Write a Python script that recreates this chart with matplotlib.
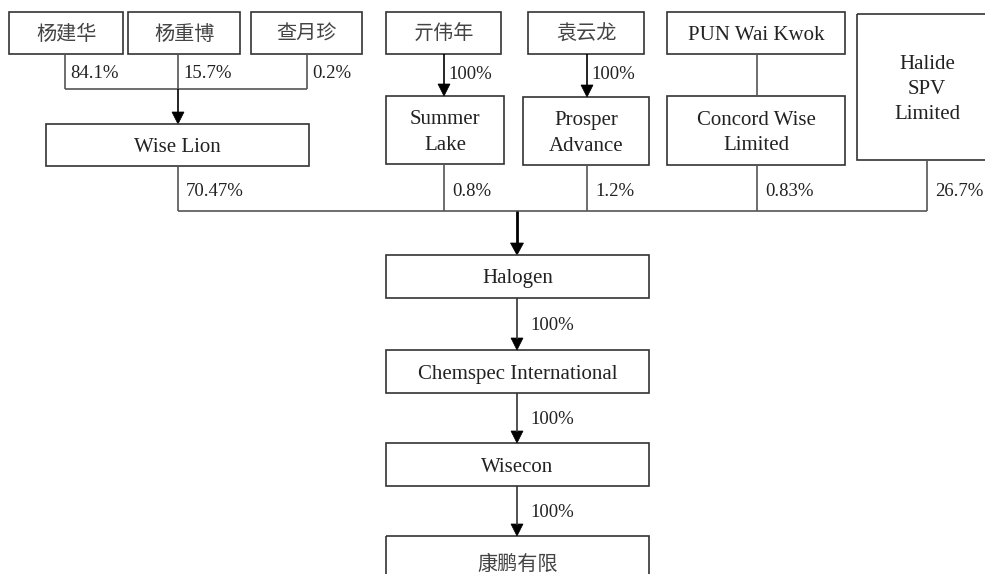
import matplotlib
matplotlib.use("Agg")
import matplotlib.pyplot as plt
from matplotlib.patches import Rectangle, Polygon

# ---- data ----
family_owners = ["杨建华", "杨重博", "查月珍"]
family_shares = ["84.1%", "15.7%", "0.2%"]
holding_name = "Wise Lion"
individual_owners = ["亓伟年", "袁云龙", "PUN Wai Kwok"]
individual_shares = ["100%", "100%", ""]
vehicles = ["Summer\nLake", "Prosper\nAdvance", "Concord Wise\nLimited"]
other_holder = "Halide\nSPV\nLimited"
halogen_holders = ["Wise Lion", "Summer Lake", "Prosper Advance", "Concord Wise Limited", "Halide SPV Limited"]
halogen_shares = ["70.47%", "0.8%", "1.2%", "0.83%", "26.7%"]
chain = ["Halogen", "Chemspec International", "Wisecon", "康鹏有限"]
chain_shares = ["100%", "100%", "100%"]

# ---- layout (pixel coords) ----
W, H = 985, 574
fig = plt.figure(figsize=(W / 100, H / 100), dpi=100)
ax = fig.add_axes([0, 0, 1, 1])
ax.set_xlim(0, W)
ax.set_ylim(H, 0)
ax.axis("off")

SERIF = ["Liberation Serif", "Noto Sans CJK SC"]
CJK = ["Noto Sans CJK SC", "Liberation Serif"]
BOX_EC = "#333333"
LINE_C = "#555555"
TXT_C = "#222222"
DY = 2.5  # small downward nudge for text centring


def is_cjk(s):
    return any(ord(c) > 0x2E80 for c in s)


def box(x0, y0, x1, y1, label, fs=15, lsp=1.45):
    ax.add_patch(Rectangle((x0, y0), x1 - x0, y1 - y0, fill=False,
                           ec=BOX_EC, lw=1.2, clip_on=True))
    cjk = is_cjk(label)
    ax.text((x0 + x1) / 2, (y0 + y1) / 2 + (1 if cjk else DY), label,
            ha="center", va="center",
            fontsize=14.5 if cjk else fs, family=CJK if cjk else SERIF,
            color="#444444" if cjk else TXT_C, linespacing=lsp)


def line(xs, ys, c=LINE_C, lw=1.2):
    ax.plot(xs, ys, color=c, lw=lw, solid_capstyle="butt")


def arrowhead(x, y, c="black", w=6, h=12):
    ax.add_patch(Polygon([(x - w, y - h), (x + w, y - h), (x, y)],
                         closed=True, fc=c, ec=c, lw=0.5))


def pct(x, y, s):
    ax.text(x, y + DY, s, ha="left", va="center", fontsize=13.5,
            family=SERIF, color=TXT_C)


# family owners -> Wise Lion
fam_boxes = [(9, 123), (128, 240), (251, 362)]
fam_lines = [65, 178, 307]
for (x0, x1), name in zip(fam_boxes, family_owners):
    box(x0, 12, x1, 54, name)
for lx, s in zip(fam_lines, family_shares):
    line([lx, lx], [54, 89])
    pct(lx + 5, 71, s)
line([fam_lines[0], fam_lines[-1]], [89, 89])
line([178, 178], [89, 124 - 11], c="black")
arrowhead(178, 124)
box(46, 124, 309, 166, holding_name)

# individuals -> vehicles
ind_boxes = [(386, 501), (528, 644), (667, 845)]
veh_boxes = [(386, 96, 504, 164), (523, 97, 649, 165), (667, 96, 845, 165)]
veh_lines = [444, 587, 757]
for (x0, x1), name in zip(ind_boxes, individual_owners):
    box(x0, 12, x1, 54, name)
for (x0, y0, x1, y1), name, lx, s in zip(veh_boxes, vehicles, veh_lines, individual_shares):
    box(x0, y0, x1, y1, name)
    if s:
        line([lx, lx], [54, y0 - 11], c="black")
        arrowhead(lx, y0)
        pct(lx + 4, 72, s)
    else:
        line([lx, lx], [54, y0])

# Halide
box(857, 14, 997, 160, other_holder)

# holders -> Halogen
hold_x = [178, 444, 587, 757, 927]
hold_bottom = [166, 164, 165, 165, 160]
for lx, yb, s in zip(hold_x, hold_bottom, halogen_shares):
    line([lx, lx], [yb, 211])
    pct(lx + 8, 189, s)
line([hold_x[0], hold_x[-1]], [211, 211])

# chain
chain_y = [(255, 298), (350, 393), (443, 486), (536, 590)]
line([517, 517], [211, 255 - 11], c="black", lw=2)
arrowhead(517, 255, w=6.5)
for (y0, y1), name in zip(chain_y, chain):
    box(386, y0, 649, y1, name)
for i, s in enumerate(chain_shares):
    yb = chain_y[i][1]
    yt = chain_y[i + 1][0]
    line([517, 517], [yb, yt - 11], c="#333333")
    arrowhead(517, yt)
    pct(530, (yb + yt) / 2 - 1, s)

fig.savefig("out.png", dpi=100)
